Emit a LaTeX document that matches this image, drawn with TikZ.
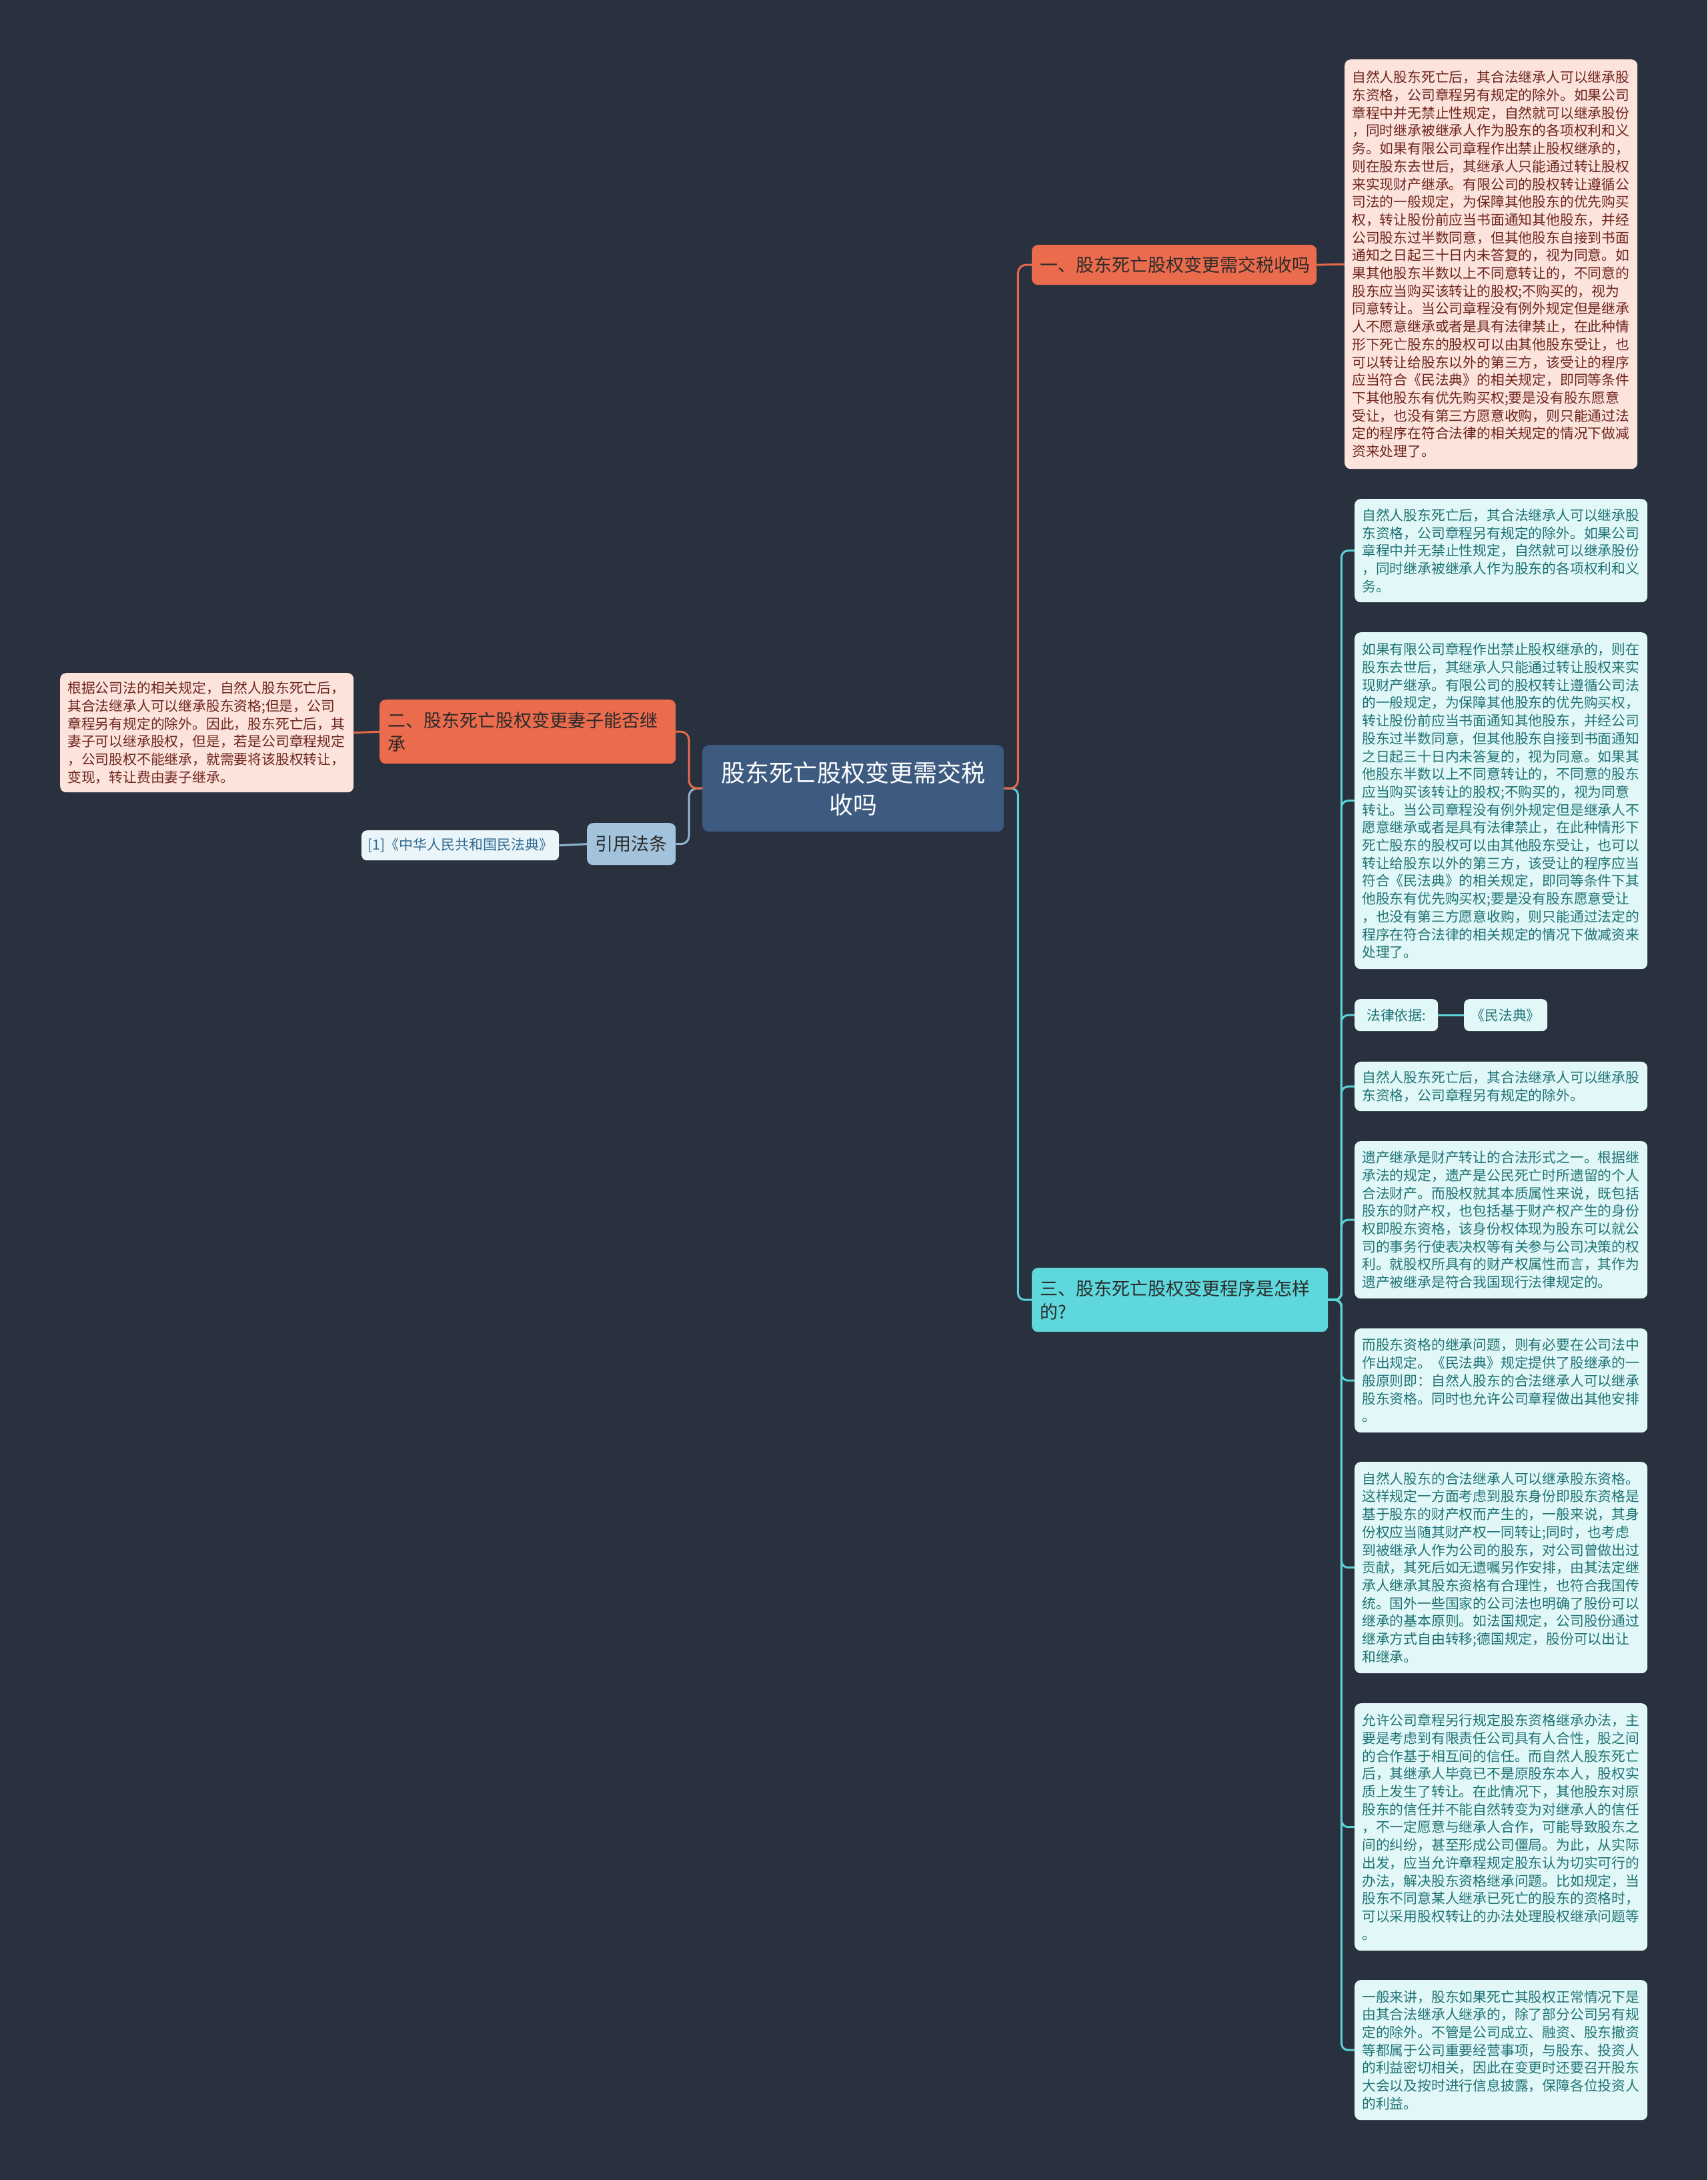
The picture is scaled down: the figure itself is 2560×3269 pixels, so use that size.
\documentclass[tikz,border=0pt]{standalone}
\usepackage{fontspec}
\setmainfont{Noto Sans CJK SC}
\definecolor{bg}{HTML}{29303E}
\definecolor{centerfill}{HTML}{3D5A80}
\definecolor{orangefill}{HTML}{EB6B4D}
\definecolor{orangeline}{HTML}{E8694A}
\definecolor{cyanfill}{HTML}{5ED8DC}
\definecolor{cyanline}{HTML}{5BD3D8}
\definecolor{reffill}{HTML}{A3C3DC}
\definecolor{refline}{HTML}{8FB4D0}
\definecolor{citefill}{HTML}{EAF5FA}
\definecolor{citetext}{HTML}{2F6A91}
\definecolor{pinkfill}{HTML}{FCE4DD}
\definecolor{pinktext}{HTML}{6E241C}
\definecolor{lcyanfill}{HTML}{E2F8F8}
\definecolor{lcyantext}{HTML}{1F7274}
\definecolor{darktext}{HTML}{2B2B2B}
\begin{document}
\begin{tikzpicture}[x=1pt,y=-1pt,
  box/.style={rounded corners=9pt, anchor=north west, align=left, inner xsep=11pt, inner ysep=0pt},
  pinkbox/.style={box, fill=pinkfill, text=pinktext, font=\fontsize{20.8pt}{26.7pt}\selectfont},
  lcbox/.style={box, fill=lcyanfill, text=lcyantext, font=\fontsize{20.8pt}{26.7pt}\selectfont},
  centerbox/.style={rounded corners=10pt, anchor=north west, align=center, fill=centerfill, text=white, inner sep=0pt, font=\fontsize{36pt}{48pt}\selectfont},
  obranch/.style={box, fill=orangefill, text=darktext, inner xsep=12pt, font=\fontsize{27pt}{35pt}\selectfont},
  cbranch/.style={box, fill=cyanfill, text=darktext, inner xsep=12pt, font=\fontsize{27pt}{35pt}\selectfont},
  refbox/.style={rounded corners=9pt, anchor=north west, align=center, fill=reffill, text=darktext, inner sep=0pt, font=\fontsize{27pt}{35pt}\selectfont},
  citebox/.style={rounded corners=8pt, anchor=north west, align=center, fill=citefill, text=citetext, inner sep=0pt, font=\fontsize{21pt}{26pt}\selectfont},
  lawbox/.style={rounded corners=8pt, anchor=north west, align=center, fill=lcyanfill, text=lcyantext, inner sep=0pt, font=\fontsize{20.8pt}{26.7pt}\selectfont},
  oline/.style={draw=orangeline, line width=3pt, rounded corners=12pt},
  cline/.style={draw=cyanline, line width=3pt, rounded corners=10pt},
  rline/.style={draw=refline, line width=3pt, rounded corners=12pt}
]
\fill[bg] (0,0) rectangle (2560,3269);
\useasboundingbox (0,0) rectangle (2560,3269);

% center
\node[centerbox, minimum width=452pt, minimum height=130pt] (c) at (1053,1117) {股东死亡股权变更需交税\\收吗};

% branches
\node[obranch, minimum width=427pt, minimum height=60pt, text width=403pt] (b1) at (1547,367) {一、股东死亡股权变更需交税收吗};
\node[obranch, minimum width=444pt, minimum height=96pt, text width=420pt] (b2) at (569,1049) {二、股东死亡股权变更妻子能否继\\承};
\node[refbox, minimum width=133pt, minimum height=63pt] (ref) at (880,1234) {引用法条};
\node[cbranch, minimum width=444pt, minimum height=96pt, text width=420pt] (b3) at (1547,1901) {三、股东死亡股权变更程序是怎样\\的?};

% left
\node[pinkbox, minimum width=440pt, minimum height=179pt, text width=418pt] (l1) at (90,1009) {根据公司法的相关规定，自然人股东死亡后，\\其合法继承人可以继承股东资格;但是，公司\\章程另有规定的除外。因此，股东死亡后，其\\妻子可以继承股权，但是，若是公司章程规定\\，公司股权不能继承，就需要将该股权转让，\\变现，转让费由妻子继承。};
\node[citebox, minimum width=296pt, minimum height=45pt] (cite) at (542,1245) {[1]《中华人民共和国民法典》};

% top right
\node[pinkbox, minimum width=439pt, minimum height=614pt, text width=417pt] (t1) at (2016,89) {自然人股东死亡后，其合法继承人可以继承股\\东资格，公司章程另有规定的除外。如果公司\\章程中并无禁止性规定，自然就可以继承股份\\，同时继承被继承人作为股东的各项权利和义\\务。如果有限公司章程作出禁止股权继承的，\\则在股东去世后，其继承人只能通过转让股权\\来实现财产继承。有限公司的股权转让遵循公\\司法的一般规定，为保障其他股东的优先购买\\权，转让股份前应当书面通知其他股东，并经\\公司股东过半数同意，但其他股东自接到书面\\通知之日起三十日内未答复的，视为同意。如\\果其他股东半数以上不同意转让的，不同意的\\股东应当购买该转让的股权;不购买的，视为\\同意转让。当公司章程没有例外规定但是继承\\人不愿意继承或者是具有法律禁止，在此种情\\形下死亡股东的股权可以由其他股东受让，也\\可以转让给股东以外的第三方，该受让的程序\\应当符合《民法典》的相关规定，即同等条件\\下其他股东有优先购买权;要是没有股东愿意\\受让，也没有第三方愿意收购，则只能通过法\\定的程序在符合法律的相关规定的情况下做减\\资来处理了。};

% right cyan details
\node[lcbox, minimum width=439pt, minimum height=155pt, text width=417pt] (d1) at (2031,748) {自然人股东死亡后，其合法继承人可以继承股\\东资格，公司章程另有规定的除外。如果公司\\章程中并无禁止性规定，自然就可以继承股份\\，同时继承被继承人作为股东的各项权利和义\\务。};
\node[lcbox, minimum width=439pt, minimum height=505pt, text width=417pt] (d2) at (2031,948) {如果有限公司章程作出禁止股权继承的，则在\\股东去世后，其继承人只能通过转让股权来实\\现财产继承。有限公司的股权转让遵循公司法\\的一般规定，为保障其他股东的优先购买权，\\转让股份前应当书面通知其他股东，并经公司\\股东过半数同意，但其他股东自接到书面通知\\之日起三十日内未答复的，视为同意。如果其\\他股东半数以上不同意转让的，不同意的股东\\应当购买该转让的股权;不购买的，视为同意\\转让。当公司章程没有例外规定但是继承人不\\愿意继承或者是具有法律禁止，在此种情形下\\死亡股东的股权可以由其他股东受让，也可以\\转让给股东以外的第三方，该受让的程序应当\\符合《民法典》的相关规定，即同等条件下其\\他股东有优先购买权;要是没有股东愿意受让\\，也没有第三方愿意收购，则只能通过法定的\\程序在符合法律的相关规定的情况下做减资来\\处理了。};
\node[lawbox, minimum width=125pt, minimum height=48pt] (law1) at (2031,1498) {法律依据:};
\node[lawbox, minimum width=125pt, minimum height=48pt] (law2) at (2195,1498) {《民法典》};
\node[lcbox, minimum width=439pt, minimum height=74pt, text width=417pt] (d4) at (2031,1592) {自然人股东死亡后，其合法继承人可以继承股\\东资格，公司章程另有规定的除外。};
\node[lcbox, minimum width=439pt, minimum height=236pt, text width=417pt] (d5) at (2031,1711) {遗产继承是财产转让的合法形式之一。根据继\\承法的规定，遗产是公民死亡时所遗留的个人\\合法财产。而股权就其本质属性来说，既包括\\股东的财产权，也包括基于财产权产生的身份\\权即股东资格，该身份权体现为股东可以就公\\司的事务行使表决权等有关参与公司决策的权\\利。就股权所具有的财产权属性而言，其作为\\遗产被继承是符合我国现行法律规定的。};
\node[lcbox, minimum width=439pt, minimum height=156pt, text width=417pt] (d6) at (2031,1992) {而股东资格的继承问题，则有必要在公司法中\\作出规定。《民法典》规定提供了股继承的一\\般原则即：自然人股东的合法继承人可以继承\\股东资格。同时也允许公司章程做出其他安排\\。};
\node[lcbox, minimum width=439pt, minimum height=317pt, text width=417pt] (d7) at (2031,2192) {自然人股东的合法继承人可以继承股东资格。\\这样规定一方面考虑到股东身份即股东资格是\\基于股东的财产权而产生的，一般来说，其身\\份权应当随其财产权一同转让;同时，也考虑\\到被继承人作为公司的股东，对公司曾做出过\\贡献，其死后如无遗嘱另作安排，由其法定继\\承人继承其股东资格有合理性，也符合我国传\\统。国外一些国家的公司法也明确了股份可以\\继承的基本原则。如法国规定，公司股份通过\\继承方式自由转移;德国规定，股份可以出让\\和继承。};
\node[lcbox, minimum width=439pt, minimum height=371pt, text width=417pt] (d8) at (2031,2554) {允许公司章程另行规定股东资格继承办法，主\\要是考虑到有限责任公司具有人合性，股之间\\的合作基于相互间的信任。而自然人股东死亡\\后，其继承人毕竟已不是原股东本人，股权实\\质上发生了转让。在此情况下，其他股东对原\\股东的信任并不能自然转变为对继承人的信任\\，不一定愿意与继承人合作，可能导致股东之\\间的纠纷，甚至形成公司僵局。为此，从实际\\出发，应当允许章程规定股东认为切实可行的\\办法，解决股东资格继承问题。比如规定，当\\股东不同意某人继承已死亡的股东的资格时，\\可以采用股权转让的办法处理股权继承问题等\\。};
\node[lcbox, minimum width=439pt, minimum height=210pt, text width=417pt] (d9) at (2031,2969) {一般来讲，股东如果死亡其股权正常情况下是\\由其合法继承人继承的，除了部分公司另有规\\定的除外。不管是公司成立、融资、股东撤资\\等都属于公司重要经营事项，与股东、投资人\\的利益密切相关，因此在变更时还要召开股东\\大会以及按时进行信息披露，保障各位投资人\\的利益。};

% connectors
\draw[cline] (c.east) -- ++(21pt,0) |- (b3.west);
\draw[oline] (c.east) -- ++(21pt,0) |- (b1.west);
\draw[oline] (b1.east) -- (t1.west);
\draw[rline] (c.west) -- ++(-20pt,0) |- (ref.east);
\draw[oline] (c.west) -- ++(-20pt,0) |- (b2.east);
\draw[oline] (b2.west) -- (l1.east);
\draw[rline] (ref.west) -- (cite.east);
\foreach \d in {d1,d2,law1,d4,d5,d6,d7,d8,d9}{
  \draw[cline] (b3.east) -- ++(20pt,0) |- (\d.west);
}
\draw[cline] (law1.east) -- (law2.west);
\end{tikzpicture}
\end{document}
